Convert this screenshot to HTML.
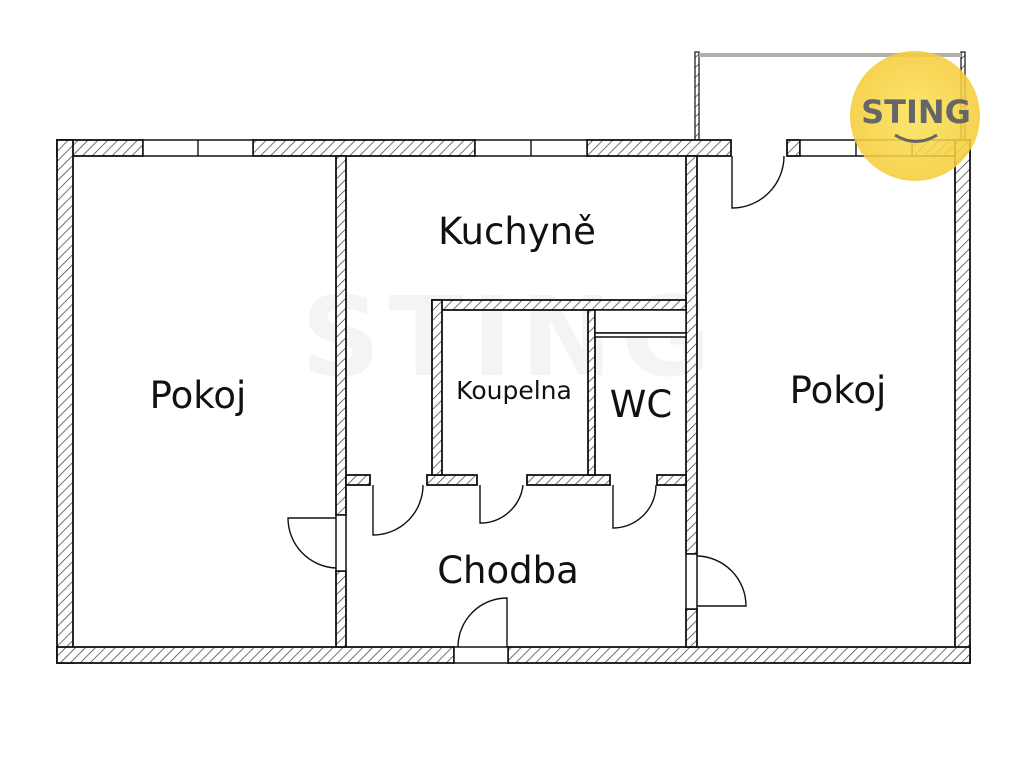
<!DOCTYPE html>
<html><head><meta charset="utf-8"><style>
html,body{margin:0;padding:0;background:#fff;width:1024px;height:768px;overflow:hidden}
svg{display:block}
text{font-family:"DejaVu Sans","Liberation Sans",sans-serif;fill:#111}
</style></head><body>
<svg width="1024" height="768" viewBox="0 0 1024 768" xmlns="http://www.w3.org/2000/svg">
<defs>
<pattern id="h" width="7" height="7" patternUnits="userSpaceOnUse" patternTransform="rotate(45)">
<rect width="7" height="7" fill="#fff"/>
<line x1="0" y1="0" x2="0" y2="7" stroke="#444" stroke-width="1.5"/>
</pattern>
<radialGradient id="g" cx="0.5" cy="0.5" r="0.5">
<stop offset="0" stop-color="#fbe35a"/><stop offset="1" stop-color="#f5cc3a"/>
</radialGradient>
</defs>
<text x="510" y="375" font-size="110" font-weight="bold" style="fill:#f4f4f4" text-anchor="middle" letter-spacing="8">STING</text>

<rect x="695" y="52" width="4" height="90" fill="url(#h)" stroke="#222" stroke-width="1.3"/>
<rect x="961" y="52" width="4" height="90" fill="url(#h)" stroke="#222" stroke-width="1.3"/>
<rect x="699" y="53" width="262" height="4" fill="#b0b0a8"/>

<g stroke="#111" stroke-width="1.8" fill="url(#h)">
<rect x="57" y="140" width="86" height="16"/>
<rect x="253" y="140" width="222" height="16"/>
<rect x="587" y="140" width="144" height="16"/>
<rect x="787" y="140" width="13" height="16"/>
<rect x="912" y="140" width="58" height="16"/>
<rect x="57" y="140" width="16" height="523"/>
<rect x="955" y="140" width="15" height="523"/>
<rect x="57" y="647" width="397" height="16"/>
<rect x="508" y="647" width="462" height="16"/>
<rect x="336" y="156" width="10" height="359"/>
<rect x="336" y="571" width="10" height="76"/>
<rect x="686" y="156" width="11" height="398"/>
<rect x="686" y="609" width="11" height="38"/>
<rect x="346" y="475" width="24" height="10"/>
<rect x="427" y="475" width="50" height="10"/>
<rect x="527" y="475" width="83" height="10"/>
<rect x="657" y="475" width="29" height="10"/>
<rect x="432" y="300" width="254" height="10"/>
<rect x="432" y="300" width="10" height="175"/>
<rect x="588" y="310" width="7" height="165"/>
</g>
<g fill="#fff" stroke="#111" stroke-width="1.5">
<rect x="143" y="140" width="110" height="16"/>
<rect x="475" y="140" width="112" height="16"/>
<rect x="800" y="140" width="112" height="16"/>
<rect x="595" y="310" width="91" height="23"/>
<rect x="595" y="333" width="91" height="4"/>
<rect x="336" y="515" width="10" height="56"/>
<rect x="686" y="554" width="11" height="55"/>
<rect x="454" y="647" width="54" height="16"/>
</g>
<g stroke="#111" stroke-width="1.4" fill="none">
<line x1="198" y1="140" x2="198" y2="156"/>
<line x1="531" y1="140" x2="531" y2="156"/>
<line x1="856" y1="140" x2="856" y2="156"/>
<path d="M732 156 V208 A52 52 0 0 0 784 156"/>
<path d="M373 485 V535 A50 50 0 0 0 423 485"/>
<path d="M480 485 V523 A43 43 0 0 0 523 485"/>
<path d="M613 485 V528 A43 43 0 0 0 656 485"/>
<path d="M336 518 H288 A50 50 0 0 0 336 568"/>
<path d="M697 606 H746 A50 50 0 0 0 697 556"/>
<path d="M507 647 V598 A49 49 0 0 0 458 647"/>
</g>

<text x="198" y="408" font-size="37" text-anchor="middle">Pokoj</text>
<text x="517" y="244" font-size="37" text-anchor="middle">Kuchyně</text>
<text x="514" y="399" font-size="25" text-anchor="middle">Koupelna</text>
<text x="641" y="417" font-size="37" text-anchor="middle">WC</text>
<text x="838" y="403" font-size="37" text-anchor="middle">Pokoj</text>
<text x="508" y="583" font-size="37" text-anchor="middle">Chodba</text>

<circle cx="915" cy="116" r="65" fill="url(#g)" opacity="0.88"/>
<text x="916" y="123" font-size="32" font-weight="bold" text-anchor="middle" style="fill:#666">STING</text>
<path d="M895 135 Q916 148 937 135" stroke="#666" stroke-width="3" fill="none"/>
</svg>
</body></html>
